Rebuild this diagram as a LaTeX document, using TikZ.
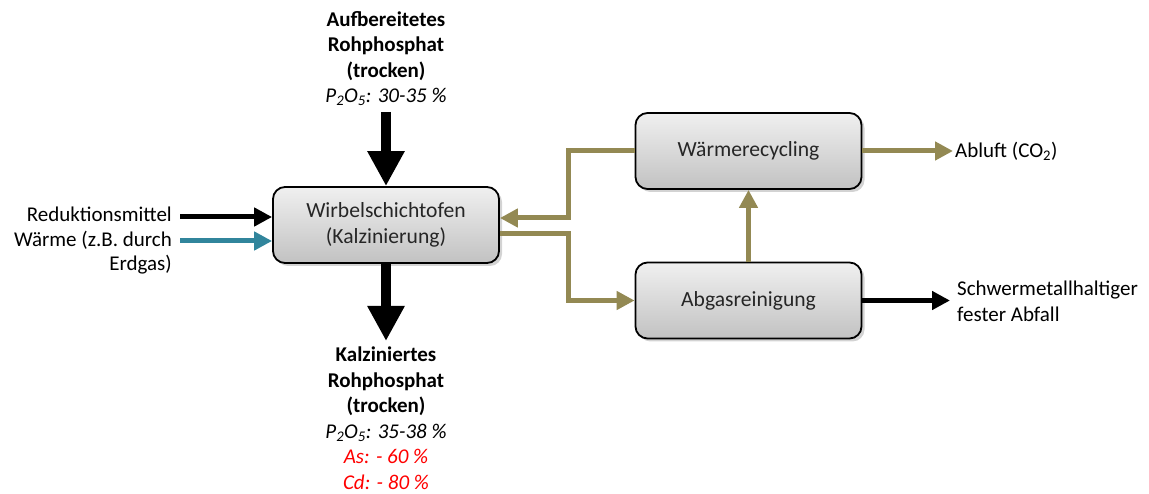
\documentclass[tikz,border=0pt]{standalone}
\usepackage{fontspec}
\setmainfont{Carlito}
\usetikzlibrary{arrows.meta,shadows}
\definecolor{flowolive}{HTML}{938953}
\definecolor{flowteal}{HTML}{31859C}
\definecolor{boxtext}{HTML}{262626}
\definecolor{noteRed}{HTML}{FF0000}
\begin{document}
\begin{tikzpicture}[x=1pt,y=-1pt,
  proc/.style={draw=black, line width=1.8pt, rounded corners=12pt,
    top color=white!94!black, bottom color=white!76!black,
    minimum width=226pt, minimum height=76pt, align=center, text=boxtext,
    font=\fontsize{21.6}{26.5}\selectfont,
    drop shadow={shadow xshift=3pt, shadow yshift=-3pt, opacity=0.35}},
  lbl/.style={inner sep=0pt, font=\fontsize{21}{25.5}\selectfont},
  bigarrow/.style={draw=black, line width=10pt, -{Triangle[width=35pt,length=35pt]}},
  thinarrow/.style={line width=5pt, -{Triangle[width=18pt,length=18pt]}},
  olivearrow/.style={draw=flowolive, thinarrow},
]
\useasboundingbox (0,0) rectangle (1149,494);

% process units
\node[proc] (ofen) at (386,225) {Wirbelschichtofen\\(Kalzinierung)};
\node[proc] (wr) at (748.5,151) {Wärmerecycling};
\node[proc] (ab) at (748.5,300.5) {Abgasreinigung};

% input / output labels
\node[lbl, anchor=north, align=center] (feed) at (386,11)
  {\textbf{Aufbereitetes}\\\textbf{Rohphosphat}\\\textbf{(trocken)}\\
   \textit{P\textsubscript{2}O\textsubscript{5}: 30-35 \%}};
\node[lbl, anchor=north, align=center] (prod) at (386,347)
  {\textbf{Kalziniertes}\\\textbf{Rohphosphat}\\\textbf{(trocken)}\\
   \textit{P\textsubscript{2}O\textsubscript{5}: 35-38 \%}\\
   \textcolor{noteRed}{\textit{As: - 60 \%}}\\
   \textcolor{noteRed}{\textit{Cd: - 80 \%}}};
\node[lbl, anchor=north east, align=right, font=\fontsize{21}{24.5}\selectfont] (inp) at (172,207)
  {Reduktionsmittel\\Wärme (z.B. durch\\Erdgas)};
\node[lbl, anchor=west] (abluft) at (955,151) {Abluft (CO\textsubscript{2})};
\node[lbl, anchor=north west, align=left] (abfall) at (957,281)
  {Schwermetallhaltiger\\fester Abfall};

% connector end points
\coordinate (feedtop) at (386,112);
\coordinate (prodtip) at (386,341);
\coordinate (redin) at (180,217);
\coordinate (heatin) at (180,241);
\coordinate (j1) at (568,218);
\coordinate (j2) at (568,234);
\coordinate (ablufttip) at (953,151);
\coordinate (abfalltip) at (950,301);

% material flow
\draw[bigarrow] (feedtop) -- (ofen.north);
\draw[bigarrow] (ofen.south) -- (prodtip);
\draw[thinarrow, draw=black] (redin) -- (redin -| ofen.west);
\draw[thinarrow, draw=flowteal] (heatin) -- (heatin -| ofen.west);

% gas and heat flow
\draw[olivearrow] (wr.west) -| (j1) -- (j1 -| ofen.east);
\draw[olivearrow] (j2 -| ofen.east) -- (j2) |- (ab.west);
\draw[olivearrow] (ab.north) -- (wr.south);
\draw[olivearrow] (wr.east) -- (wr.east -| ablufttip);
\draw[thinarrow, draw=black] (ab.east) -- (ab.east -| abfalltip);
\end{tikzpicture}
\end{document}
